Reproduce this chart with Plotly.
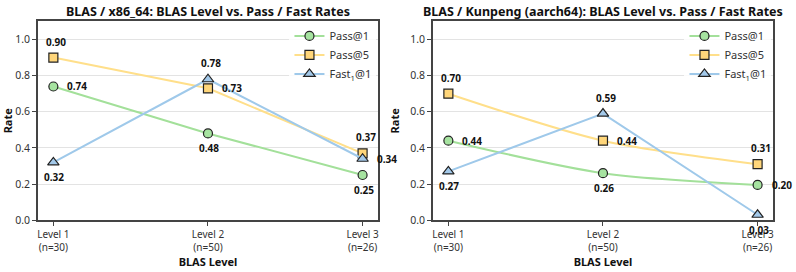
import plotly.graph_objects as go
from plotly.subplots import make_subplots

levels = ["Level 1<br>(n=30)", "Level 2<br>(n=50)", "Level 3<br>(n=26)"]
titles = ["BLAS / x86_64: BLAS Level vs. Pass / Fast Rates",
          "BLAS / Kunpeng (aarch64): BLAS Level vs. Pass / Fast Rates"]
series_names = ["Pass@1", "Pass@5", "Fast<sub>1</sub>@1"]

x86_pass1 = [0.74, 0.48, 0.25]
x86_pass5 = [0.90, 0.73, 0.37]
x86_fast1 = [0.32, 0.78, 0.34]
arm_pass1 = [0.44, 0.26, 0.195]
arm_pass5 = [0.70, 0.44, 0.31]
arm_fast1 = [0.27, 0.59, 0.03]

# label placements: a=above, r=right, b=below
x86_pos = [["r", "b", "b"], ["a", "r", "a"], ["b", "a", "r"]]
arm_pos = [["r", "b", "r"], ["a", "r", "a"], ["b", "a", "b"]]
# line shapes per panel / series
x86_shape = ["linear", "linear", "linear"]
arm_shape = ["spline", "spline", "linear"]

line_colors = ["#a3e09a", "#ffdf8a", "#9fc9ea"]
fill_colors = ["#a6e3a0", "#ffd67a", "#a3c9ea"]
symbols = ["circle", "square", "triangle-up"]
msizes = [9, 9, 10]

FONT = "Noto Sans"
fig = make_subplots(rows=1, cols=2)

panels = [([x86_pass1, x86_pass5, x86_fast1], x86_pos, x86_shape),
          ([arm_pass1, arm_pass5, arm_fast1], arm_pos, arm_shape)]
xdoms = [[37 / 796, 378 / 796], [433 / 796, 774 / 796]]
ydom = [1 - 226 / 272, 1 - 22 / 272]

for p, (data, pos, shapes) in enumerate(panels):
    col = p + 1
    for i, vals in enumerate(data):
        fig.add_trace(go.Scatter(
            x=[0, 1, 2], y=vals, mode="lines+markers", name=series_names[i],
            line=dict(color=line_colors[i], width=2, shape=shapes[i], smoothing=0.8),
            marker=dict(symbol=symbols[i], size=msizes[i], color=fill_colors[i],
                        line=dict(color="#222", width=1.2)),
            legend="legend" if p == 0 else "legend2",
            showlegend=True), row=1, col=col)
        for j, v in enumerate(vals):
            d = pos[i][j]
            if d == "a":
                kw = dict(xanchor="center", yanchor="bottom", yshift=7, xshift=3)
            elif d == "b":
                kw = dict(xanchor="center", yanchor="top", yshift=-6, xshift=1)
            else:
                kw = dict(xanchor="left", yanchor="middle", xshift=12)
            fig.add_annotation(x=j, y=v, text=f"<b>{v:.2f}</b>", showarrow=False,
                               font=dict(size=10, color="#111", family=FONT),
                               xref=f"x{'' if col == 1 else col}",
                               yref=f"y{'' if col == 1 else col}", **kw)
    xa = "xaxis" if col == 1 else f"xaxis{col}"
    ya = "yaxis" if col == 1 else f"yaxis{col}"
    fig.layout[xa].update(
        domain=xdoms[p], range=[-0.1, 2.1], tickvals=[0, 1, 2], ticktext=levels,
        showline=True, mirror=True, linecolor="#444", linewidth=1.5,
        ticks="outside", ticklen=4, tickcolor="#444", showgrid=False, zeroline=False,
        tickfont=dict(size=10, color="#333", family=FONT),
        title=dict(text="<b>BLAS Level</b>", font=dict(size=11, color="#111", family=FONT),
                   standoff=4))
    fig.layout[ya].update(
        domain=ydom, range=[0, 1.1], tickvals=[0, 0.2, 0.4, 0.6, 0.8, 1.0],
        tickformat=".1f", showline=True, mirror=True, linecolor="#444", linewidth=1.5,
        ticks="outside", ticklen=4, tickcolor="#444", showgrid=True, gridcolor="#e3e3e3",
        zeroline=False, tickfont=dict(size=10.5, color="#333", family=FONT),
        title=dict(text="<b>Rate</b>", font=dict(size=11, color="#111", family=FONT),
                   standoff=8))
    fig.add_annotation(text=f"<b>{titles[p]}</b>", x=(xdoms[p][0] + xdoms[p][1]) / 2,
                       y=1 - 12 / 272, xref="paper", yref="paper", showarrow=False,
                       xanchor="center", yanchor="middle",
                       font=dict(size=12.5, color="#111", family=FONT))

leg_common = dict(bgcolor="rgba(255,255,255,0.85)", borderwidth=0,
                  font=dict(size=11, color="#333", family=FONT),
                  xanchor="right", yanchor="top", tracegroupgap=0, itemwidth=30)
fig.update_layout(
    legend=dict(x=xdoms[0][1] - 0.002, y=ydom[1] + 0.0, **leg_common),
    legend2=dict(x=xdoms[1][1] - 0.002, y=ydom[1] + 0.0, **leg_common),
    width=796, height=272, margin=dict(l=0, r=0, t=0, b=0),
    plot_bgcolor="white", paper_bgcolor="white",
    font=dict(family=FONT))

fig.write_html("out.html")
